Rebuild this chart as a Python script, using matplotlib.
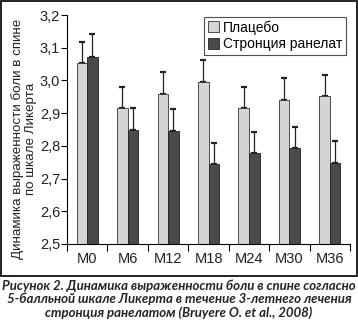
import numpy as np
import matplotlib.pyplot as plt
from matplotlib.patches import Rectangle
from matplotlib.ticker import FixedLocator

plt.rcParams['font.family'] = ['Liberation Sans', 'DejaVu Sans']

# data
groups = ['M0', 'M6', 'M12', 'M18', 'M24', 'M30', 'M36']
placebo = [3.052, 2.915, 2.959, 2.994, 2.915, 2.939, 2.951]
placebo_err = [0.066, 0.065, 0.068, 0.069, 0.065, 0.068, 0.066]
sr = [3.073, 2.847, 2.844, 2.743, 2.777, 2.792, 2.749]
sr_err = [0.070, 0.068, 0.068, 0.067, 0.066, 0.066, 0.067]
yticks = [2.5, 2.6, 2.7, 2.8, 2.9, 3.0, 3.1, 3.2]
series_names = ['Плацебо', 'Стронция ранелат']

caption = ('Рисунок 2. Динамика выраженности боли в спине согласно\n'
           '5-балльной шкале Ликерта в течение 3-летнего лечения\n'
           'стронция ранелатом (Bruyere O. et al., 2008)')

fig = plt.figure(figsize=(3.58, 3.27), dpi=100)
ax = fig.add_axes([0.187, 0.254, 0.791, 0.70])

x = np.arange(len(groups))
w = 0.26
ax.bar(x - w / 2, placebo, w, bottom=0, color='#d4d4d4', edgecolor='#333333',
       linewidth=0.6, label=series_names[0], zorder=2)
ax.bar(x + w / 2, sr, w, bottom=0, color='#4a4a4a', edgecolor='#222222',
       linewidth=0.6, label=series_names[1], zorder=2)
ax.errorbar(x - w / 2, placebo, yerr=[np.zeros(len(x)), placebo_err], fmt='none',
            ecolor='#222222', elinewidth=0.9, capsize=2.5, capthick=1.6, zorder=1)
ax.errorbar(x + w / 2, sr, yerr=[np.zeros(len(x)), sr_err], fmt='none',
            ecolor='#222222', elinewidth=0.9, capsize=2.5, capthick=1.6, zorder=1)

ax.set_ylim(2.5, 3.2)
ax.set_xlim(-0.5, len(groups) - 0.5)
ax.set_yticks(yticks)
ax.set_yticklabels([f'{v:.1f}'.replace('.', ',') for v in yticks], fontsize=10.5,
                   color='#222222')
ax.set_xticks(x)
ax.set_xticklabels(groups, fontsize=10.5, color='#222222')
ax.tick_params(axis='x', which='major', length=0, pad=6)
ax.xaxis.set_minor_locator(FixedLocator(np.arange(-0.5, len(groups), 1.0)))
ax.tick_params(axis='x', which='minor', length=5, width=0.8, direction='out')
ax.tick_params(axis='y', length=4, width=0.8, pad=1)
for s in ['top', 'right']:
    ax.spines[s].set_visible(False)
for s in ['left', 'bottom']:
    ax.spines[s].set_linewidth(0.8)

ax.set_ylabel('Динамика выраженности боли в спине\nпо шкале Ликерта', fontsize=9.6,
              color='#222222', linespacing=1.1)
ax.yaxis.set_label_coords(-0.105, 0.46)

leg = ax.legend(loc='upper right', bbox_to_anchor=(0.995, 1.005), fontsize=10,
                frameon=True, fancybox=False, edgecolor='#222222',
                handlelength=0.8, handleheight=0.8, handletextpad=0.3,
                borderpad=0.25, labelspacing=0.2, borderaxespad=0.2)
leg.get_frame().set_linewidth(0.8)

# outer frame around the chart
fig.patches.append(Rectangle((0.003, 0.157), 0.994, 0.84, transform=fig.transFigure,
                             fill=False, edgecolor='#111111', linewidth=1.3))

fig.text(0.5, 0.085, caption, ha='center', va='center', fontsize=9.5,
         fontweight='bold', fontstyle='italic', color='#2b2222', linespacing=1.1,
         family=['Lato', 'DejaVu Sans'])

fig.savefig('out.png', dpi=100)
